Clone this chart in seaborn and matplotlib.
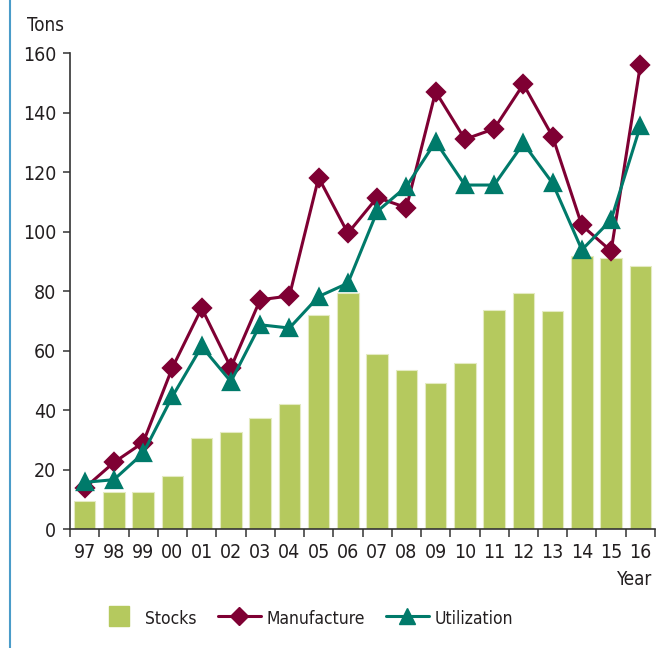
import matplotlib
matplotlib.use("Agg")
import matplotlib.pyplot as plt
from matplotlib.lines import Line2D
import seaborn as sns
import pandas as pd

sns.set_theme(style="white")
plt.rcParams["font.family"] = ["Liberation Sans Narrow", "DejaVu Sans"]
plt.rcParams["font.stretch"] = "condensed"

TEXT = "#231f20"
STOCK_COLOR = "#b5c95e"
MANU_COLOR = "#7f0033"
UTIL_COLOR = "#007a6a"

years = ["97", "98", "99", "00", "01", "02", "03", "04", "05", "06",
         "07", "08", "09", "10", "11", "12", "13", "14", "15", "16"]
stocks = [9.4, 12.6, 12.6, 17.7, 30.7, 32.6, 37.2, 42.2, 72.0, 79.3,
          58.9, 53.4, 49.2, 55.8, 73.8, 79.3, 73.4, 91.9, 91.0, 88.6]
manufacture = [13.8, 22.4, 29.1, 54.3, 74.3, 54.3, 77.1, 78.4, 118.2, 99.5,
               111.5, 108.1, 147.1, 131.1, 134.6, 149.6, 132.0, 102.1, 93.5, 156.1]
utilization = [15.7, 16.6, 25.5, 44.6, 61.4, 49.6, 68.7, 67.6, 78.2, 82.7,
               106.8, 115.2, 130.3, 115.7, 115.7, 129.7, 116.3, 93.9, 104.0, 135.6]
y_ticks = [0, 20, 40, 60, 80, 100, 120, 140, 160]

df = pd.DataFrame({"year": years, "stocks": stocks,
                   "manufacture": manufacture, "utilization": utilization})

fig = plt.figure(figsize=(6.67, 6.48), dpi=100)
ax = fig.add_axes([0.105, 0.1836, 0.877, 0.7341])

sns.barplot(data=df, x="year", y="stocks", color=STOCK_COLOR, saturation=1,
            width=0.73, edgecolor="#e4ebc2", linewidth=0.8, ax=ax, zorder=2)
sns.pointplot(data=df, x="year", y="manufacture", color=MANU_COLOR,
              marker="D", markersize=9.5, linewidth=2.2, ax=ax, zorder=3)
sns.pointplot(data=df, x="year", y="utilization", color=UTIL_COLOR,
              marker="^", markersize=11.5, linewidth=2.2, ax=ax, zorder=4)

ax.set_xlim(-0.5, len(years) - 0.5)
ax.set_ylim(0, 160)
ax.set_yticks(y_ticks)
ax.set_xticks(range(len(years)))
ax.set_xticklabels(years)
ax.set_xticks([i - 0.5 for i in range(len(years) + 1)], minor=True)
ax.set_xlabel("")
ax.set_ylabel("")

for side in ["top", "right"]:
    ax.spines[side].set_visible(False)
for side in ["left", "bottom"]:
    ax.spines[side].set_color("#333333")
    ax.spines[side].set_linewidth(1.2)

ax.tick_params(axis="y", which="major", left=True, length=5, width=1.1,
               color="#333333", labelsize=14, labelcolor=TEXT, pad=5)
ax.tick_params(axis="x", which="major", bottom=False, length=0,
               labelsize=14, labelcolor=TEXT, pad=10)
ax.tick_params(axis="x", which="minor", bottom=True, length=6, width=1.1,
               color="#333333")

fig.text(0.040, 0.96, "Tons", fontsize=13.5, color=TEXT, ha="left", va="center")
fig.text(0.978, 0.105, "Year", fontsize=13.5, color=TEXT, ha="right", va="center")

# thin blue rule along the left edge
fig.add_artist(Line2D([0.0155, 0.0155], [0.0, 1.0], transform=fig.transFigure,
                      color="#4a9cc9", linewidth=1.5))

handles = [
    Line2D([], [], color=STOCK_COLOR, marker="s", markersize=14, linestyle="none"),
    Line2D([], [], color=MANU_COLOR, marker="D", markersize=9, linewidth=2.2),
    Line2D([], [], color=UTIL_COLOR, marker="^", markersize=11, linewidth=2.2),
]
fig.legend(handles, ["Stocks", "Manufacture", "Utilization"], ncol=3,
           loc="center", bbox_to_anchor=(0.457, 0.046), frameon=False,
           fontsize=12.5, labelcolor=TEXT, handlelength=2.5, handleheight=1.4,
           handletextpad=0.3, columnspacing=1.2)

fig.savefig("out.png", dpi=100)
